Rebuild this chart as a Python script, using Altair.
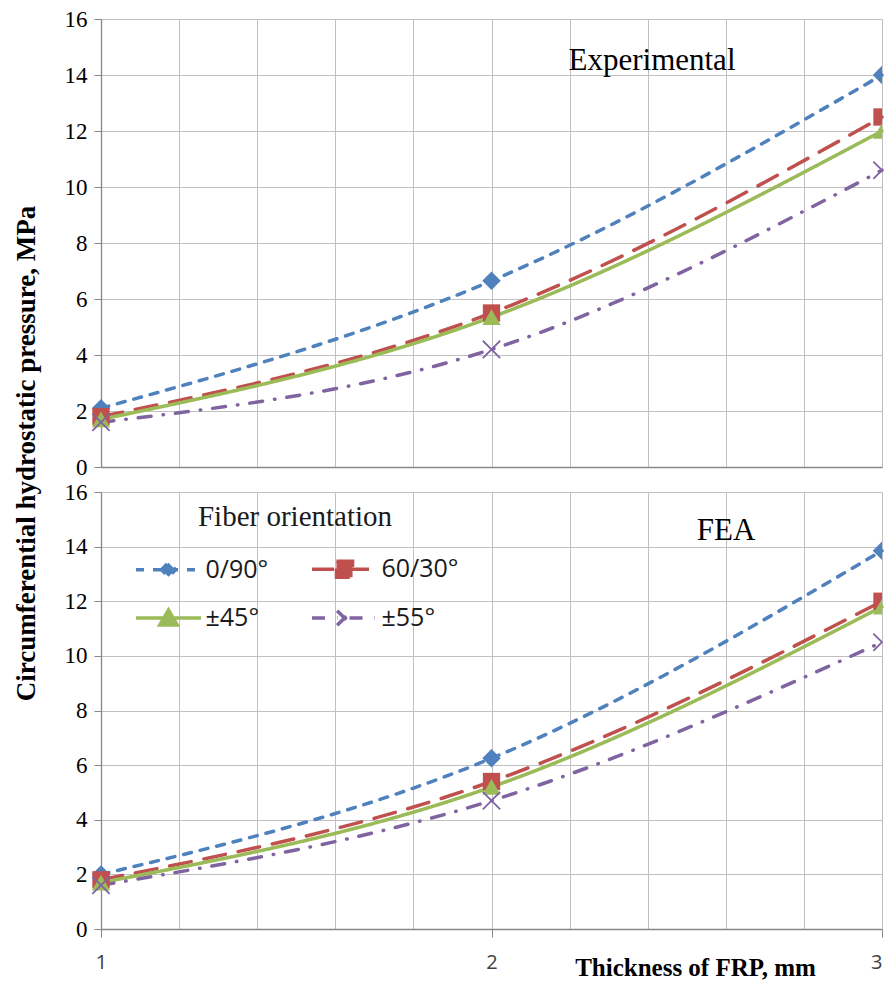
import altair as alt
import pandas as pd

# ---------------- data ----------------
series = ["0/90°", "60/30°", "±45°", "±55°"]
thickness = [1, 2, 3]

exp_0_90 = [2.1, 6.65, 14.0]
exp_60_30 = [1.8, 5.5, 12.5]
exp_45 = [1.7, 5.35, 12.0]
exp_55 = [1.6, 4.2, 10.6]

fea_0_90 = [2.0, 6.25, 13.85]
fea_60_30 = [1.8, 5.4, 12.0]
fea_45 = [1.7, 5.2, 11.8]
fea_55 = [1.6, 4.7, 10.5]

y_ticks = [0, 2, 4, 6, 8, 10, 12, 14, 16]
x_grid = [round(1 + 0.2 * i, 1) for i in range(11)]


def make_df(values):
    rows = []
    for s, vals in zip(series, values):
        for t, v in zip(thickness, vals):
            rows.append({"series": s, "thickness": t, "pressure": v})
    return pd.DataFrame(rows)


df_exp = make_df([exp_0_90, exp_60_30, exp_45, exp_55])
df_fea = make_df([fea_0_90, fea_60_30, fea_45, fea_55])

# ---------------- styles ----------------
colors = ["#4F81BD", "#C0504D", "#9BBB59", "#8064A2"]
dashes = [[8, 9], [22, 13], [1, 0], [13, 12, 0.5, 12]]

LN = "M-4.64,0L4.64,0"
legend_paths = [
    LN + "M-1,0L0,-1L1,0L0,1Z",
    LN + "M-1.15,-1.15L1.15,-1.15L1.15,1.15L-1.15,1.15Z",
    LN + "M0,-1.15L1.25,1L-1.25,1Z",
    LN + "M-1.05,-1.05L1.05,1.05M-1.05,1.05L1.05,-1.05",
]

SERIF = "Liberation Serif"
SANS = "Open Sans"
GRID = "#c0c0c0"
DOMAIN = "#878787"
PLOT_W = 781

# (full marker, marker cut by the right-hand frame, size, filled)
marker_specs = [
    ("diamond", "M0,-1L-1,0L0,1Z", 340, True),
    ("square", "M-1,-1L0,-1L0,1L-1,1Z", 300, True),
    ("triangle-up", "M0,-0.866L-1,0.866L0,0.866Z", 330, True),
    ("M-1,-1L1,1M-1,1L1,-1", "M-1,-1L0,0L-1,1", 300, False),
]

int_test = "abs(datum.value - round(datum.value)) < 0.001"

LEG = alt.Legend(
    title="Fiber orientation",
    orient="none",
    legendX=31,
    legendY=483.5,
    columns=2,
    direction="horizontal",
    padding=0,
    titleFont=SERIF,
    titleFontSize=29,
    titleFontWeight="normal",
    titleColor="#1a1a1a",
    titleAnchor="middle",
    titlePadding=25,
    titleLimit=500,
    labelFont=SANS,
    labelFontSize=25,
    labelColor="#1a1a1a",
    labelLimit=300,
    symbolSize=196,
    symbolStrokeWidth=3.5,
    symbolOffset=24,
    labelOffset=24.5,
    columnPadding=36,
    rowPadding=18,
    symbolOpacity=1,
)

color_enc = alt.Color("series:N", scale=alt.Scale(domain=series, range=colors), legend=LEG)
dash_enc = alt.StrokeDash("series:N", scale=alt.Scale(domain=series, range=dashes), legend=LEG)
shape_enc = alt.Shape("series:N", scale=alt.Scale(domain=series, range=legend_paths), legend=LEG)


def y_axis(with_title):
    kw = dict(
        values=y_ticks,
        grid=True,
        tickSize=7,
        labelPadding=7,
        labelFont=SERIF,
        labelFontSize=23,
        labelColor="black",
    )
    if with_title:
        kw.update(
            title="Circumferential hydrostatic pressure, MPa",
            titleFont=SERIF,
            titleFontSize=27,
            titleFontWeight="bold",
            titleColor="black",
            titleAngle=270,
            titleAlign="center",
            titleBaseline="alphabetic",
            titleX=-67,
            titleY=434,
        )
    else:
        kw.update(title=None)
    return alt.Axis(**kw)


def x_axis(bottom):
    if bottom:
        return alt.Axis(
            values=x_grid,
            grid=True,
            tickSize=8,
            tickOpacity={"condition": {"test": int_test, "value": 1}, "value": 0},
            labelExpr=f"{int_test} ? format(datum.value, 'd') : ''",
            labelAlign={"condition": {"test": "datum.value > 2.99", "value": "right"}, "value": "center"},
            labelFlush=False,
            labelOverlap=False,
            labelFont=SANS,
            labelFontSize=20,
            labelColor="#404040",
            labelPadding=15,
            title="Thickness of FRP, mm",
            titleFont=SERIF,
            titleFontSize=25,
            titleFontWeight="bold",
            titleColor="black",
            titleX=594,
            titleY=46,
            titleAlign="center",
            titleBaseline="alphabetic",
        )
    return alt.Axis(
        values=x_grid,
        grid=True,
        labels=False,
        ticks=False,
        title=None,
    )


def panel(df, title_text, dx, offset, height, bottom):
    base = alt.Chart(df)
    x = alt.X("thickness:Q", scale=alt.Scale(domain=[1, 3], nice=False, zero=False), axis=x_axis(bottom))
    y = alt.Y("pressure:Q", scale=alt.Scale(domain=[0, 16], nice=False), axis=y_axis(not bottom))

    lines = base.mark_line(
        interpolate="monotone", strokeWidth=3.5, strokeCap="round", strokeJoin="round"
    ).encode(x=x, y=y, color=color_enc, strokeDash=dash_enc)
    layers = [lines]
    for s, (shape, cut_shape, size, filled) in zip(series, marker_specs):
        mk = dict(size=size, filled=filled, opacity=1)
        if not filled:
            mk["strokeWidth"] = 1.8
            mk["strokeJoin"] = "round"
        layers.append(
            base.transform_filter((alt.datum.series == s) & (alt.datum.thickness < 3))
            .mark_point(shape=shape, **mk)
            .encode(x=x, y=y, color=color_enc)
        )
        layers.append(
            base.transform_filter((alt.datum.series == s) & (alt.datum.thickness >= 3))
            .mark_point(shape=cut_shape, **mk)
            .encode(x=x, y=y, color=color_enc)
        )
    if bottom:
        # invisible layer that only carries the legend symbols
        layers.append(
            base.transform_filter(alt.datum.thickness < 3)
            .mark_point(filled=True, opacity=0, size=1)
            .encode(x=x, y=y, color=color_enc, shape=shape_enc)
        )
    return alt.layer(*layers).properties(
        width=PLOT_W,
        height=height,
        title=alt.TitleParams(
            title_text,
            font=SERIF,
            fontSize=31,
            fontWeight="normal",
            color="black",
            anchor="middle",
            frame="group",
            dx=dx,
            offset=offset,
            baseline="alphabetic",
        ),
    )


top = panel(df_exp, "Experimental", 160.5, -93, 448, False)
bottom = panel(df_fea, "FEA", 234.5, -89.5, 437, True)

chart = (
    alt.vconcat(top, bottom, spacing=25, bounds="flush")
    .properties(padding={"left": 3, "top": 0, "right": 0, "bottom": 0})
    .configure_view(stroke=None)
    .configure_axis(
        gridWidth=1,
        domainWidth=1.3,
        gridColor=GRID,
        domainColor=DOMAIN,
        tickColor=DOMAIN,
    )
)

chart.save("out.html", embed_options={"renderer": "svg", "actions": False})
